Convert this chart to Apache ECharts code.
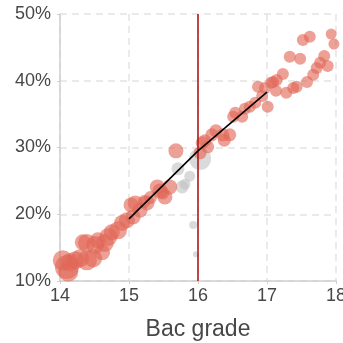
<!DOCTYPE html>
<html><head><meta charset="utf-8">
<script src="https://cdn.jsdelivr.net/npm/echarts@6/dist/echarts.min.js"></script>
<style>html,body{margin:0;padding:0;background:#fff}#c{width:343px;height:343px}</style>
</head><body><div id="c"></div>
<script>
// Red (outside band) points: x = bac grade, y = percent, s = weight (marker size)
const redX = [14.04,14.10,14.12,14.14,14.22,14.29,14.33,14.39,14.48,14.39,14.51,14.55,14.61,14.65,14.70,14.75,14.84,14.90,14.97,15.03,15.06,15.09,15.16,15.22,15.26,15.31,15.41,15.45,15.49,15.52,15.59,15.68,
  16.03,16.06,16.10,16.14,16.20,16.26,16.36,16.38,16.46,16.51,16.54,16.64,16.68,16.75,16.83,16.87,16.93,16.97,17.01,17.06,17.09,17.14,17.13,17.23,17.28,17.38,17.43,17.33,17.48,17.52,17.62,17.58,17.67,17.72,17.77,17.88,17.83,17.93,17.97];
const redY = [13.1,12.1,11.4,12.8,13.1,13.4,15.8,13.1,13.4,15.7,15.4,16.1,14.3,15.7,16.6,17.3,17.6,18.7,19.1,21.4,19.6,21.7,20.6,21.9,21.7,22.5,24.1,23.5,23.2,22.6,24.1,29.5,
  29.2,30.7,31.0,30.1,31.9,32.5,31.9,31.1,31.9,34.6,35.2,34.6,35.8,36.1,36.7,39.1,37.7,38.9,36.1,39.7,39.8,40.1,38.5,41.0,38.2,38.9,39.1,43.6,43.3,46.1,46.6,39.8,40.9,41.9,42.7,42.2,43.7,47.0,45.5];
const redS = [20,24,20,18,18,18,16,20,18,18,18,16,16,18,18,16,18,16,16,15,15,15,15,13,15,13,15,15,13,15,15,15,
  13,13,13,13,13,13,13,13,13,12,12,12,12,12,12,12,12,12,12,12,12,12,12,12,12,12,12,12,12,12,12,12,12,12,12,12,12,11,11];
// Grey points
const greyX = [15.71,15.77,15.81,15.88,16.03,15.93,15.97];
const greyY = [26.8,24.1,24.5,25.7,28.3,18.4,14.0];
const greyS = [13,13,11,11,22,8,6];
// Fitted lines
const fitLeft = [[15,19.3],[16,29.5]];
const fitRight = [[16,29.5],[17,38.3]];
const cutoff = 16;
const xTicks = [14,15,16,17,18];
const yTicks = [10,20,30,40,50];
const xName = 'Bac grade';

function pts(xs, ys, ss){ return xs.map((x,i)=>[x, ys[i], ss[i]]); }
const font = 'Liberation Sans, Arial, sans-serif';
const chart = echarts.init(document.getElementById('c'), null, {renderer:'canvas'});
chart.setOption({
  animation:false,
  grid:{left:60,right:7,top:14,bottom:62,containLabel:false,outerBoundsMode:'none'},
  xAxis:{type:'value',min:xTicks[0],max:xTicks[xTicks.length-1],interval:1,
    name:xName,nameLocation:'middle',nameGap:37,
    nameTextStyle:{fontSize:23,color:'#474747',fontFamily:font},
    axisLine:{show:true,lineStyle:{color:'#cfcfcf',width:1.5}},
    axisTick:{show:true,length:3,lineStyle:{color:'#cfcfcf'}},
    axisLabel:{fontSize:18,color:'#474747',fontFamily:font,margin:6},
    splitLine:{show:true,lineStyle:{color:'#e3e3e3',type:[7,5],width:1.5}}},
  yAxis:{type:'value',min:yTicks[0],max:yTicks[yTicks.length-1],interval:10,
    axisLine:{show:true,lineStyle:{color:'#cfcfcf',width:1.5}},
    axisTick:{show:true,length:3,lineStyle:{color:'#cfcfcf'}},
    axisLabel:{fontSize:18,color:'#474747',fontFamily:font,margin:9,formatter:'{value}%'},
    splitLine:{show:true,lineStyle:{color:'#e3e3e3',type:[7,5],width:1.5}}},
  series:[
    {type:'scatter',data:pts(greyX,greyY,greyS),symbolSize:d=>d[2],
      itemStyle:{color:'rgba(190,190,190,0.72)'},z:2},
    {type:'scatter',data:pts(redX,redY,redS),symbolSize:d=>d[2],
      itemStyle:{color:'rgba(225,102,86,0.78)'},z:3},
    {type:'line',data:fitLeft,symbol:'none',lineStyle:{color:'#000',width:1.6},z:5},
    {type:'line',data:fitRight,symbol:'none',lineStyle:{color:'#000',width:1.6},z:5,
      markLine:{silent:true,symbol:'none',label:{show:false},
        lineStyle:{color:'#b31b1b',width:1.6,type:'solid'},data:[{xAxis:cutoff}]}}
  ]
});
</script></body></html>
